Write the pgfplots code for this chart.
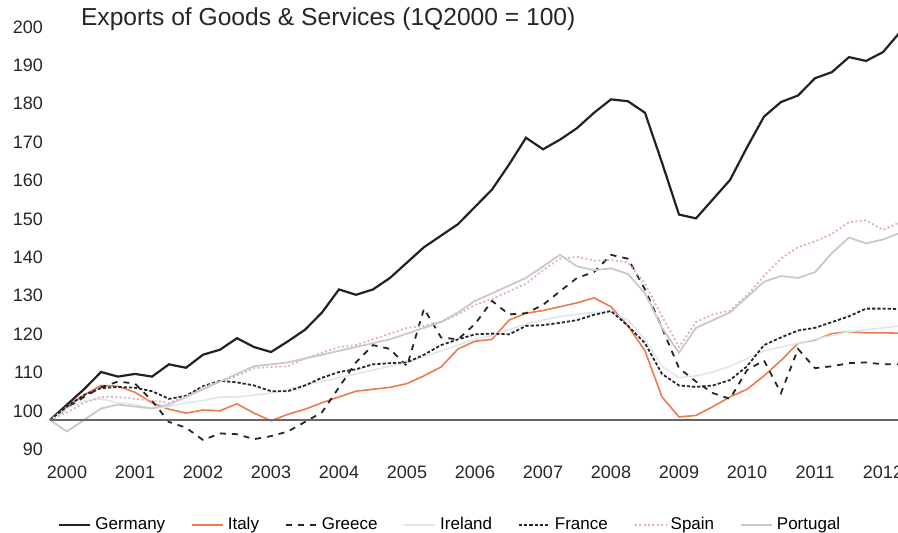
\documentclass[border=0pt]{standalone}
\usepackage{pgfplots}
\pgfplotsset{compat=1.18}
\usepackage{fontspec}
\setmainfont{Liberation Sans}
\definecolor{italyc}{HTML}{EE7A4F}
\definecolor{spainc}{HTML}{E3B3B3}
\definecolor{portc}{HTML}{C9C9C9}
\definecolor{irec}{HTML}{DCE8F0}
\definecolor{gerc}{HTML}{222222}
\begin{document}
\begin{tikzpicture}
\begin{axis}[
  scale only axis, width=425pt, height=220.8pt,
  xmin=0, xmax=50, ymin=90, ymax=205,
  axis line style={draw=none}, tick style={draw=none},
  xtick={1,5,9,13,17,21,25,29,33,37,41,45,49},
  xticklabels={2000,2001,2002,2003,2004,2005,2006,2007,2008,2009,2010,2011,2012},
  ytick={90,100,...,200},
  /pgf/number format/assume math mode=true,
  ticklabel style={font=\fontsize{9}{10}\selectfont, text=black!85},
  yticklabel style={yshift=4.5pt},
  clip=false,
  legend columns=7,
  legend style={at={(0.472,-0.151)}, anchor=center, draw=none, fill=none,
    font=\fontsize{8.5}{10}\selectfont,
    /tikz/every even column/.append style={column sep=11pt}},
  legend image code/.code={\draw[#1] (0pt,0pt) -- (15.5pt,0pt);},
]
\addplot[gerc, line width=1.1pt] coordinates {
(0,100)(1,104)(2,108)(3,112.5)(4,111.3)(5,112)(6,111.3)(7,114.5)(8,113.6)(9,117)
(10,118.3)(11,121.3)(12,119)(13,117.7)(14,120.5)(15,123.5)(16,128)(17,134)(18,132.6)(19,134)
(20,137)(21,141)(22,145)(23,148)(24,151)(25,155.5)(26,160)(27,166.5)(28,173.5)(29,170.5)
(30,173)(31,176)(32,180)(33,183.5)(34,183)(35,180)(36,167)(37,153.5)(38,152.5)(39,157.5)
(40,162.5)(41,171)(42,179)(43,182.8)(44,184.5)(45,189)(46,190.6)(47,194.5)(48,193.5)(49,195.8)(50,201)};
\addlegendentry{Germany}
\addplot[italyc, line width=0.8pt] coordinates {
(0,100)(1,103.5)(2,106.5)(3,109)(4,108.8)(5,107.2)(6,104.5)(7,102.8)(8,101.8)(9,102.6)
(10,102.4)(11,104.2)(12,101.8)(13,99.8)(14,101.5)(15,102.8)(16,104.5)(17,106)(18,107.5)(19,108)
(20,108.5)(21,109.5)(22,111.5)(23,113.8)(24,118.5)(25,120.5)(26,121)(27,126)(28,127.8)(29,128.5)
(30,129.5)(31,130.5)(32,131.8)(33,129.5)(34,124.5)(35,118)(36,106)(37,100.8)(38,101.2)(39,103.5)
(40,106)(41,108)(42,111.5)(43,115.5)(44,120)(45,120.8)(46,122.5)(47,123)(48,122.7)(49,122.7)(50,122.6)};
\addlegendentry{Italy}
\addplot[black!85, line width=0.9pt, dash pattern=on 3pt off 3pt] coordinates {
(0,100)(1,103)(2,106)(3,108.5)(4,110)(5,109.5)(6,105)(7,99.5)(8,98)(9,94.8)
(10,96.5)(11,96.3)(12,95)(13,95.8)(14,97)(15,99.5)(16,102)(17,108.5)(18,115)(19,119.5)
(20,118.5)(21,114)(22,129)(23,121.5)(24,121)(25,125)(26,131)(27,127.5)(28,127.8)(29,130)
(30,133.5)(31,137)(32,138.5)(33,143)(34,142)(35,134)(36,124)(37,113.5)(38,110)(39,107)
(40,105.5)(41,113)(42,115.5)(43,107)(44,118.5)(45,113.5)(46,114)(47,114.8)(48,115)(49,114.5)(50,114.5)};
\addlegendentry{Greece}
\addplot[irec, line width=0.8pt] coordinates {
(0,100)(1,103)(2,105)(3,105.5)(4,104.5)(5,104)(6,103)(7,103.5)(8,104.5)(9,105)
(10,106)(11,106)(12,106.5)(13,107)(14,108)(15,109)(16,110)(17,111)(18,112)(19,113)
(20,114)(21,115)(22,116.5)(23,118)(24,119.5)(25,121)(26,122)(27,123.5)(28,125)(29,126)
(30,127)(31,127.5)(32,128)(33,128)(34,126)(35,121)(36,114)(37,111)(38,111.5)(39,112.5)
(40,114)(41,116)(42,118)(43,119)(44,120)(45,121)(46,122)(47,123)(48,123.5)(49,124)(50,124.5)};
\addlegendentry{Ireland}
\addplot[black!85, line width=0.9pt, dash pattern=on 1.6pt off 1pt] coordinates {
(0,100)(1,103.5)(2,106.5)(3,108.3)(4,108.6)(5,108.4)(6,107.5)(7,105.5)(8,106.3)(9,108.8)
(10,110.2)(11,109.8)(12,109)(13,107.5)(14,107.5)(15,109)(16,111)(17,112.5)(18,113.2)(19,114.5)
(20,114.8)(21,115)(22,117)(23,119.5)(24,121)(25,122.3)(26,122.5)(27,122.3)(28,124.5)(29,124.7)
(30,125.3)(31,126)(32,127.4)(33,128.4)(34,124.5)(35,120)(36,112)(37,109)(38,108.6)(39,109)
(40,110.4)(41,114)(42,119.5)(43,121.5)(44,123.3)(45,124)(46,125.5)(47,127)(48,129)(49,129)(50,128.9)};
\addlegendentry{France}
\addplot[spainc, line width=0.9pt, dash pattern=on 1pt off 1.2pt] coordinates {
(0,100)(1,102)(2,104.5)(3,106)(4,106)(5,105.5)(6,105)(7,104.5)(8,106)(9,108.5)
(10,110)(11,111.5)(12,113.5)(13,113.8)(14,114)(15,116)(16,117.5)(17,119)(18,119.5)(19,121)
(20,122.5)(21,124)(22,124.5)(23,125.5)(24,127.5)(25,130)(26,131.5)(27,133.5)(28,135.5)(29,139)
(30,142)(31,142.5)(32,141.5)(33,141.7)(34,141)(35,135.5)(36,127)(37,119)(38,125.5)(39,127.5)
(40,128.5)(41,132.5)(42,137.5)(43,142)(44,145)(45,146.5)(46,148.5)(47,151.5)(48,152)(49,149.5)(50,151.5)};
\addlegendentry{Spain}
\addplot[portc, line width=0.9pt] coordinates {
(0,100)(1,97)(2,100)(3,103)(4,104)(5,103.5)(6,103)(7,104)(8,106)(9,108)
(10,110)(11,112)(12,114)(13,114.5)(14,115)(15,116)(16,117)(17,118)(18,119)(19,120)
(20,121)(21,122.5)(22,124)(23,125.5)(24,128)(25,131)(26,133)(27,135)(28,137)(29,140)
(30,143)(31,140)(32,139)(33,139.5)(34,138)(35,133)(36,124)(37,117.5)(38,124)(39,126)
(40,128)(41,132)(42,136)(43,137.5)(44,137)(45,138.5)(46,143.5)(47,147.5)(48,146)(49,147)(50,148.7)};
\addlegendentry{Portugal}
\draw[black!60, line width=0.75pt] (axis cs:0,100) -- (axis cs:50,100);
\end{axis}
\node[anchor=west, font=\fontsize{12.3}{14}\selectfont, text=black!85] at (12pt,219.7pt) {Exports of Goods \& Services (1Q2000 = 100)};
\pgfresetboundingbox
\path[use as bounding box] (-25pt,-37.3pt) rectangle (424pt,229.2pt);
\end{tikzpicture}
\end{document}
